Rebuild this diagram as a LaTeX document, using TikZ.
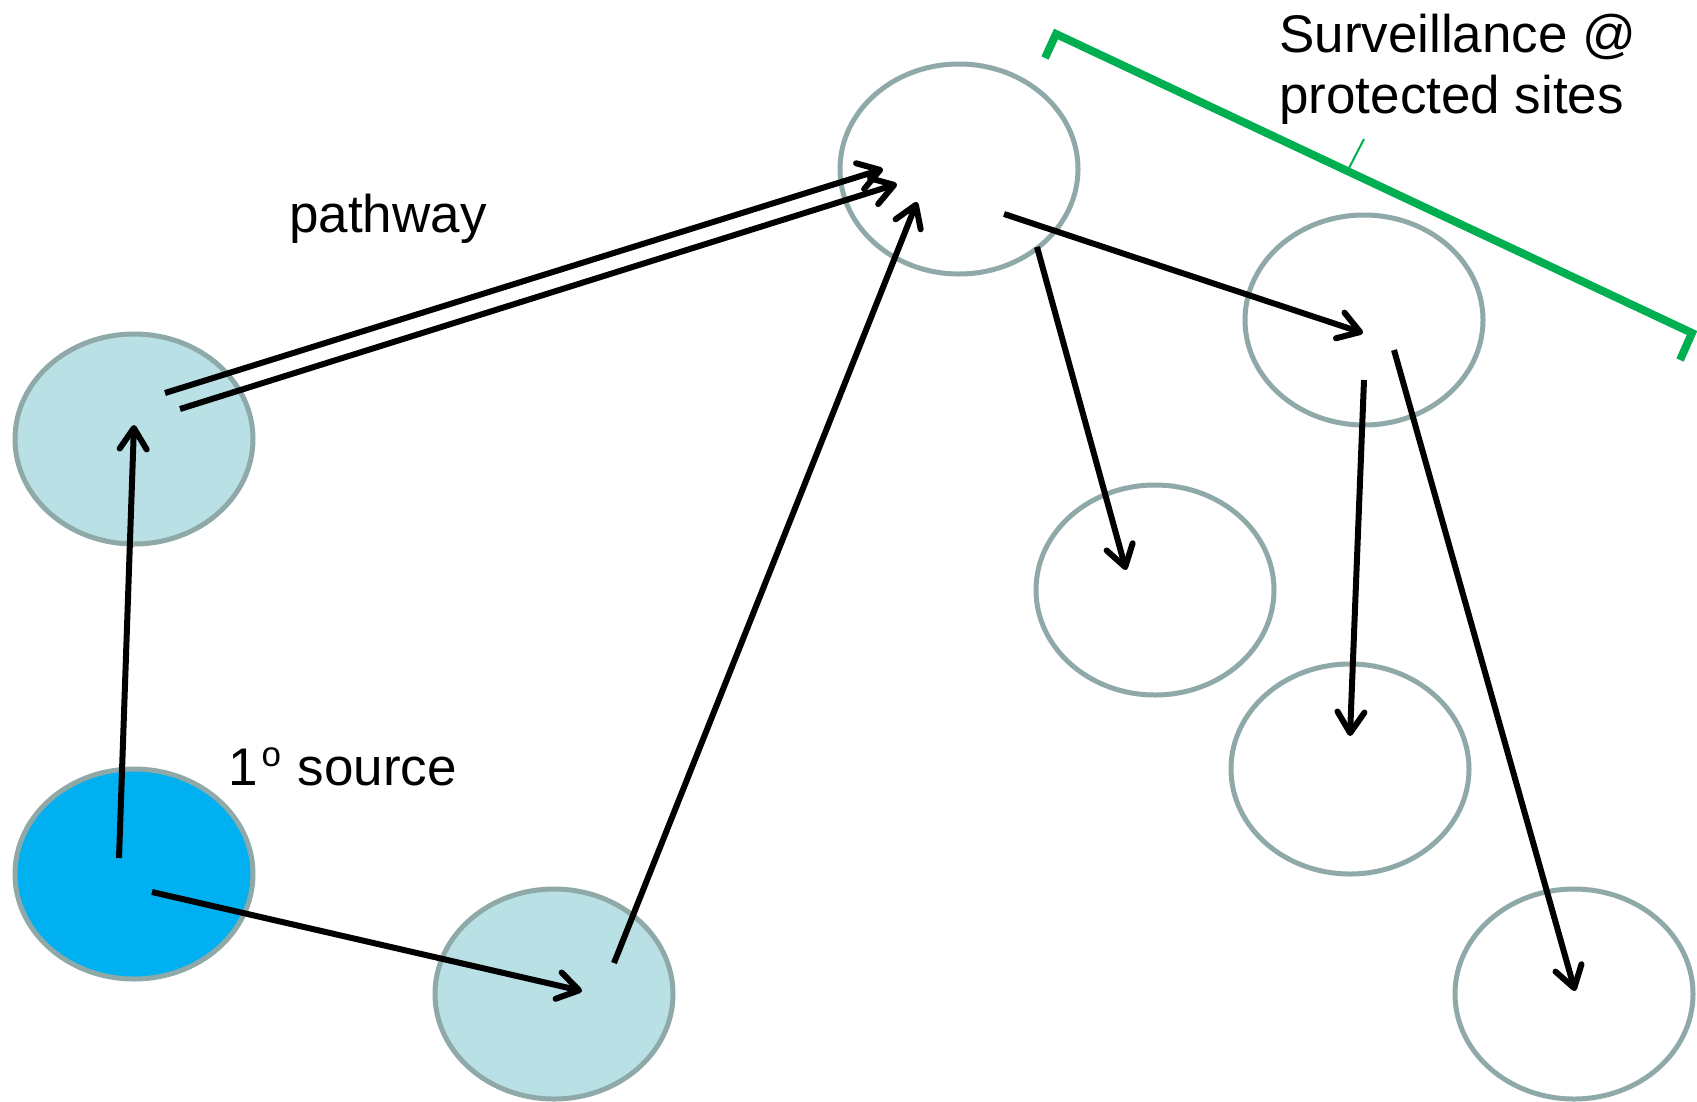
\documentclass[tikz,border=0pt]{standalone}
\usepackage{fontspec}
\setmainfont{Liberation Sans}
\usetikzlibrary{shapes.geometric,arrows.meta,calc}
\definecolor{edgegray}{RGB}{143,168,168}
\definecolor{paleblue}{RGB}{185,224,228}
\definecolor{srcblue}{RGB}{0,176,240}
\definecolor{survgreen}{RGB}{0,176,80}
\begin{document}
\begin{tikzpicture}[x=1pt,y=-1pt,
  site/.style={ellipse, draw=edgegray, line width=5pt, minimum width=238pt, minimum height=210pt, inner sep=0pt},
  flow/.style={line width=6pt, -{Straight Barb[round,length=21pt,width=27pt]}},
  lbl/.style={font=\fontsize{53}{61}\selectfont, inner sep=0pt, anchor=base west, align=left}]
\useasboundingbox (0,0) rectangle (1697,1101);
% sites
\node[site, fill=srcblue]  (e1) at (134,874) {};
\node[site, fill=paleblue] (e2) at (134,439) {};
\node[site, fill=paleblue] (e3) at (554,994) {};
\node[site] (e4) at (959,169) {};
\node[site] (e5) at (1364,320) {};
\node[site] (e6) at (1155,590) {};
\node[site] (e7) at (1350,769) {};
\node[site] (e8) at (1574,994) {};
% pathways
\draw[flow] ($(e1)+(-15,-16)$) -- ($(e2)+(0,-14)$);
\draw[flow] ($(e1)+(18,18)$) -- ($(e3)+(28,-3)$);
\draw[flow] ($(e3)+(60,-31)$) -- ($(e4)+(-42,33)$);
\draw[flow] ($(e2)+(31,-46)$) -- ($(e4)+(-76,0)$);
\draw[flow] ($(e2)+(46,-30)$) -- ($(e4)+(-62,15)$);
\draw[flow] ($(e4)+(45,45)$) -- ($(e5)+(-1,13)$);
\draw[flow] ($(e4)+(78,78)$) -- ($(e6)+(-29,-20)$);
\draw[flow] ($(e5)+(0,60)$) -- ($(e7)+(0,-33)$);
\draw[flow] ($(e5)+(30,30)$) -- ($(e8)+(1,-3)$);
% surveillance line
\coordinate (g1) at (1045,58);
\coordinate (g2) at (1056,34);
\coordinate (g3) at (1692,333);
\coordinate (g4) at (1680,360);
\draw[survgreen, line width=8pt, line join=miter] (g1) -- (g2) -- (g3) -- (g4);
\coordinate (lead1) at (1364,139);
\coordinate (lead2) at (1349,168);
\draw[survgreen, line width=2pt] (lead1) -- (lead2);
% labels
\node[lbl] (tpath) at (289,232) {pathway};
\node[lbl] (tsrc) at (228,785) {1\raisebox{19pt}{\fontsize{35}{35}\selectfont\hspace{4pt}o}\hspace{2pt} source};
\node[lbl] (tsurv) at (1279,113) {Surveillance @\\protected sites};
\end{tikzpicture}
\end{document}
